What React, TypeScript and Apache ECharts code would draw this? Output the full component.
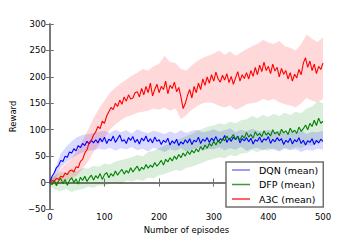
import React, { useEffect, useRef } from "react";
import * as echarts from "echarts";

const MEAN_STEP = 4;
const BAND_STEP = 10;

// mean curves, one value every 4 episodes (0..500)
const dqnMean = [
 0,12,18,28,32,42,40,50,48,58,
 56,64,60,70,66,74,70,78,73,80,
 75,81,75,84,77,86,74,82,79,88,
 76,83,90,78,81,74,85,80,87,76,
 82,73,84,79,88,77,83,75,86,78,
 81,72,80,76,84,71,79,74,82,70,
 77,73,81,75,83,72,80,77,86,74,
 82,78,85,76,84,79,87,77,83,80,
 89,76,84,78,86,81,88,75,83,79,
 85,77,84,73,81,78,86,76,83,80,
 87,74,82,77,85,79,83,72,80,76,
 84,73,81,77,85,74,80,71,79,76,
 83,72,80,75,82,78];

const dfpMean = [
 0,-4,5,-6,3,8,-2,6,-5,4,
 9,0,7,-3,10,4,12,2,9,14,
 5,13,8,17,6,15,19,9,17,12,
 22,14,20,25,16,23,18,28,20,26,
 31,22,29,25,34,27,33,29,38,31,
 36,42,33,44,39,47,41,50,44,53,
 47,56,50,59,53,61,56,64,58,68,
 62,71,65,74,69,78,71,80,74,83,
 79,88,81,85,91,82,87,80,89,84,
 95,86,91,84,96,89,93,87,98,90,
 94,88,100,92,96,89,101,94,98,91,
 103,95,99,93,105,97,102,109,100,112,
 106,118,108,122,112,116];

const a3cMean = [
 0,4,2,8,6,12,10,18,15,22,
 24,20,30,28,40,44,56,62,76,80,
 90,96,106,102,116,112,126,134,142,138,
 150,144,156,148,162,154,166,158,160,170,
 172,162,178,166,182,170,188,164,176,186,
 170,182,176,192,168,184,178,190,172,180,
 162,140,150,165,176,160,182,170,188,176,
 196,184,200,188,204,192,209,196,190,203,
 194,206,189,201,186,198,210,192,204,197,
 208,196,212,201,218,204,222,210,228,212,
 220,206,224,211,218,200,216,205,212,196,
 208,192,205,198,214,204,226,236,218,230,
 212,224,206,220,214,226];

// shaded bands, one value every 10 episodes (0..500)
const dqnLow = [-2,8,28,38,46,52,57,60,61,64, 62,66,60,65,63,67,61,64,59,66, 62,58,63,60,65,59,62,66,60,64, 63,67,61,65,62,68,60,64,66,61, 65,62,59,64,61,63,58,62,60,64, 62];
const dqnHigh = [2,28,55,68,78,86,90,92,94,96, 98,94,100,95,99,93,101,96,94,98, 95,92,97,93,99,94,98,100,95,97, 101,96,99,103,95,100,97,102,98,96, 100,95,98,93,97,94,99,92,96,95, 98];

const dfpLow = [-6,-14,-16,-12,-18,-14,-12,-8,-10,-5, -6,-2,0,-3,4,2,6,3,9,8, 14,16,20,24,22,28,30,34,38,42, 45,48,46,52,50,55,56,61,58,62, 60,65,61,66,63,67,65,71,69,75, 77];
const dfpHigh = [6,14,20,18,24,22,28,26,32,30, 36,34,40,42,45,48,52,50,58,60, 65,70,74,80,84,88,92,98,102,106, 108,112,110,115,112,118,120,126,122,128, 124,130,126,132,128,134,131,140,144,154, 150];

const a3cLow = [-2,-4,-2,4,8,14,26,40,58,72, 85,100,110,118,124,128,132,134,136,140, 138,142,136,140,120,128,138,145,150,152, 150,145,142,146,138,142,148,150,152,158, 155,158,152,148,146,142,150,160,155,152, 158];
const a3cHigh = [4,14,26,36,46,60,80,100,122,140, 155,170,180,188,195,202,208,215,212,220, 225,240,228,226,215,212,222,230,236,240, 244,250,242,248,240,246,252,258,262,270, 265,262,268,258,255,250,262,280,272,266, 275];

const seriesNames = ["DQN (mean)", "DFP (mean)", "A3C (mean)"];

const FONT = "DejaVu Sans";

function buildSeries(name: string, mean: number[], low: number[], high: number[], lineColor: string, bandColor: string) {
  const upper = high.map((v, i) => [i * BAND_STEP, v]);
  const lower = low.map((v, i) => [i * BAND_STEP, v]);
  const line = mean.map((m, i) => [i * MEAN_STEP, m]);
  return [
    {
      type: "custom",
      coordinateSystem: "cartesian2d",
      data: [[0, 0]],
      silent: true,
      z: 1,
      renderItem: (params: any, api: any) => {
        if (params.dataIndex !== 0) return null;
        const pts: number[][] = [];
        upper.forEach((p) => pts.push(api.coord(p)));
        for (let i = lower.length - 1; i >= 0; i--) pts.push(api.coord(lower[i]));
        return {
          type: "polygon",
          shape: { points: pts },
          style: { fill: bandColor, stroke: "none" },
        };
      },
    },
    {
      type: "line", name, data: line, symbol: "none", z: 3,
      lineStyle: { color: lineColor, width: 1.1 }, itemStyle: { color: lineColor },
    },
  ];
}

export default function App() {
  const ref = useRef<HTMLDivElement>(null);
  useEffect(() => {
    if (!ref.current) return;
    const chart = echarts.init(ref.current, undefined, { renderer: "svg" });
    const axisLine = { show: true, lineStyle: { color: "#707070", width: 1.5 } };
    const axisTick = { show: true, inside: true, length: 4, lineStyle: { color: "#707070", width: 1 } };
    chart.setOption({
      animation: false,
      backgroundColor: "#ffffff",
      textStyle: { fontFamily: FONT },
      grid: { left: 45, right: 37, top: 24, bottom: 31, containLabel: false },
      legend: {
        data: [
          { name: seriesNames[0], itemStyle: { color: "#7a7aff" } },
          { name: seriesNames[1], itemStyle: { color: "#3a9a3a" } },
          { name: seriesNames[2], itemStyle: { color: "#ff3030" } },
        ],
        orient: "vertical",
        left: 226,
        top: 162,
        icon: "rect",
        itemWidth: 18,
        itemHeight: 1.5,
        itemGap: 4.5,
        padding: [3, 5, 3, 6],
        borderColor: "#707070",
        borderWidth: 1.5,
        backgroundColor: "#ffffff",
        textStyle: { fontFamily: FONT, fontSize: 9.5, color: "#000", lineHeight: 10, padding: [0, 0, 0, 4] },
      },
      xAxis: [
        {
          type: "value", min: 0, max: 500, interval: 100,
          name: "Number of episodes", nameLocation: "middle", nameGap: 15,
          nameTextStyle: { fontFamily: FONT, fontSize: 8.5, color: "#000" },
          axisLine, axisTick, splitLine: { show: false },
          axisLabel: { fontFamily: FONT, fontSize: 8.5, color: "#000", margin: 3 },
        },
        {
          type: "value", min: 0, max: 500, interval: 100, position: "top",
          axisLine, axisTick, splitLine: { show: false }, axisLabel: { show: false },
        },
      ],
      yAxis: [
        {
          type: "value", min: -50, max: 300, interval: 50,
          name: "Reward", nameLocation: "middle", nameGap: 24, nameRotate: 90,
          nameTextStyle: { fontFamily: FONT, fontSize: 8.5, color: "#000" },
          axisLine, axisTick, splitLine: { show: false },
          axisLabel: {
            fontFamily: FONT, fontSize: 8.5, color: "#000", margin: 4,
            formatter: (v: number) => (v < 0 ? "\u2212" + Math.abs(v) : String(v)),
          },
        },
        {
          type: "value", min: -50, max: 300, interval: 50, position: "right",
          axisLine, axisTick, splitLine: { show: false }, axisLabel: { show: false },
        },
      ],
      series: [
        ...buildSeries(seriesNames[0], dqnMean, dqnLow, dqnHigh, "#0000ff", "rgba(0,0,255,0.15)"),
        ...buildSeries(seriesNames[1], dfpMean, dfpLow, dfpHigh, "#008000", "rgba(0,128,0,0.14)"),
        ...buildSeries(seriesNames[2], a3cMean, a3cLow, a3cHigh, "#ff0000", "rgba(255,0,0,0.15)"),
      ],
    });
    return () => chart.dispose();
  }, []);
  return <div ref={ref} style={{ position: "fixed", left: 0, top: 0, width: 360, height: 240 }} />;
}
